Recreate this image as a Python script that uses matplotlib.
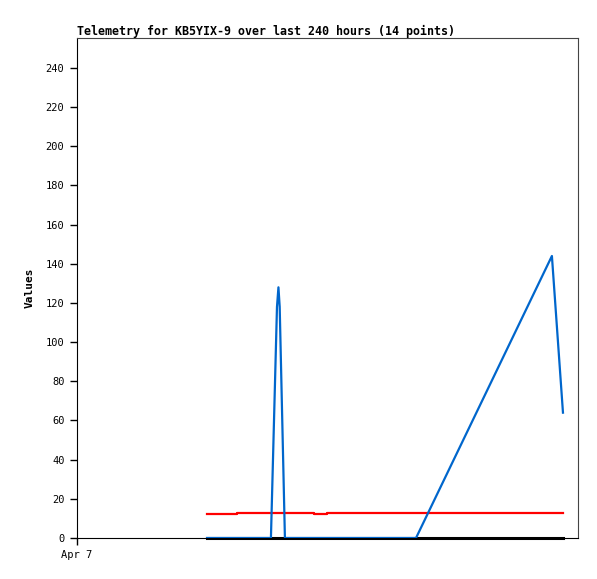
import matplotlib
matplotlib.use("Agg")
import matplotlib.pyplot as plt

# hours since Apr 7 00:00
hours = [62.3, 67.5, 76.6, 92.9, 95.8, 96.5, 97.1, 99.6, 112.6, 113.6, 119.8, 162.4, 227.5, 232.8]
blue = [0, 0, 0, 0, 118, 128, 118, 0, 0, 0, 0, 0, 144, 64]
red = [12, 12.5, 13, 13, 13, 13, 13, 13, 13, 12, 13, 13, 13, 13]
black = [0] * 14
xticks = [0]
xticklabels = ["Apr 7"]
yticks = list(range(0, 241, 20))

fig = plt.figure(figsize=(5.97, 5.79), dpi=100)
ax = fig.add_axes([77/597, 1-538/579, 501/597, 500/579])
ax.plot(hours, red, color="#ff0000", lw=1.6, drawstyle="steps-post")
ax.plot(hours, black, color="#000000", lw=2.2, clip_on=False, zorder=3)
ax.plot(hours, blue, color="#0066cc", lw=1.6, zorder=4)
ax.set_xlim(0, 240)
ax.set_ylim(0, 255.3)
ax.set_xticks(xticks)
ax.set_xticklabels(xticklabels)
ax.set_yticks(yticks)
mono = "DejaVu Sans Mono"
for lab in ax.get_xticklabels() + ax.get_yticklabels():
    lab.set_family(mono)
    lab.set_fontsize(7.5)
ax.tick_params(direction="out", length=5, width=1, pad=4)
ax.set_ylabel("Values", family=mono, fontsize=8, fontweight="bold", labelpad=8)
ax.set_title("Telemetry for KB5YIX-9 over last 240 hours (14 points)", family=mono,
             fontsize=8.35, fontweight="bold", loc="left", pad=2)
for s in ["top", "right"]:
    ax.spines[s].set_color("#444444")
fig.savefig("out.png", dpi=100)
